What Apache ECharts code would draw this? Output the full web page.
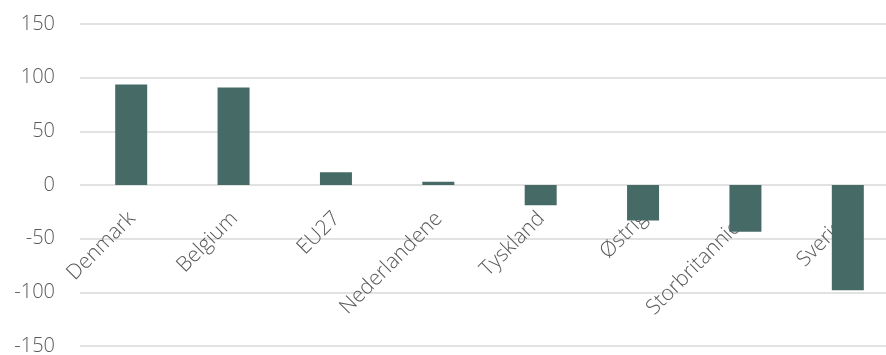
<!DOCTYPE html>
<html>
<head>
<meta charset="utf-8">
<script src="https://cdn.jsdelivr.net/npm/echarts@6/dist/echarts.min.js"></script>
<style>
  html, body { margin: 0; padding: 0; background: #fff; }
  #chart { width: 886px; height: 355px; }
</style>
</head>
<body>
<div id="chart"></div>
<script>
var countries = ['Denmark', 'Belgium', 'EU27', 'Nederlandene', 'Tyskland', 'Østrig', 'Storbritannien', 'Sverige'];
var values = [93.6, 90.8, 11.9, 3.0, -18.8, -33.0, -43.6, -98.0];

var myChart = echarts.init(document.getElementById('chart'));

var option = {
    animation: false,
    grid: {
        left: 80,
        top: 24,
        width: 819,
        height: 322,
        containLabel: false,
        outerBoundsMode: 'none'
    },
    xAxis: {
        type: 'category',
        data: countries,
        axisLine: { show: false, onZero: false },
        axisTick: { show: false },
        axisLabel: {
            rotate: 45,
            margin: -130,
            padding: [0, -1, 0, 0],
            interval: 0,
            hideOverlap: false,
            color: '#595959',
            fontSize: 21,
            fontFamily: 'Open Sans',
            fontWeight: 300
        }
    },
    yAxis: {
        type: 'value',
        min: -150,
        max: 150,
        interval: 50,
        axisLine: { show: false },
        axisTick: { show: false },
        splitLine: { lineStyle: { color: '#d9d9d9', width: 1.5 } },
        axisLabel: {
            margin: 25,
            color: '#595959',
            fontSize: 20,
            fontFamily: 'Open Sans',
            fontWeight: 300
        }
    },
    series: [
        {
            name: 'Værdi',
            type: 'bar',
            data: values,
            barWidth: 32,
            itemStyle: { color: '#466a66' }
        }
    ]
};

myChart.setOption(option);
</script>
</body>
</html>
